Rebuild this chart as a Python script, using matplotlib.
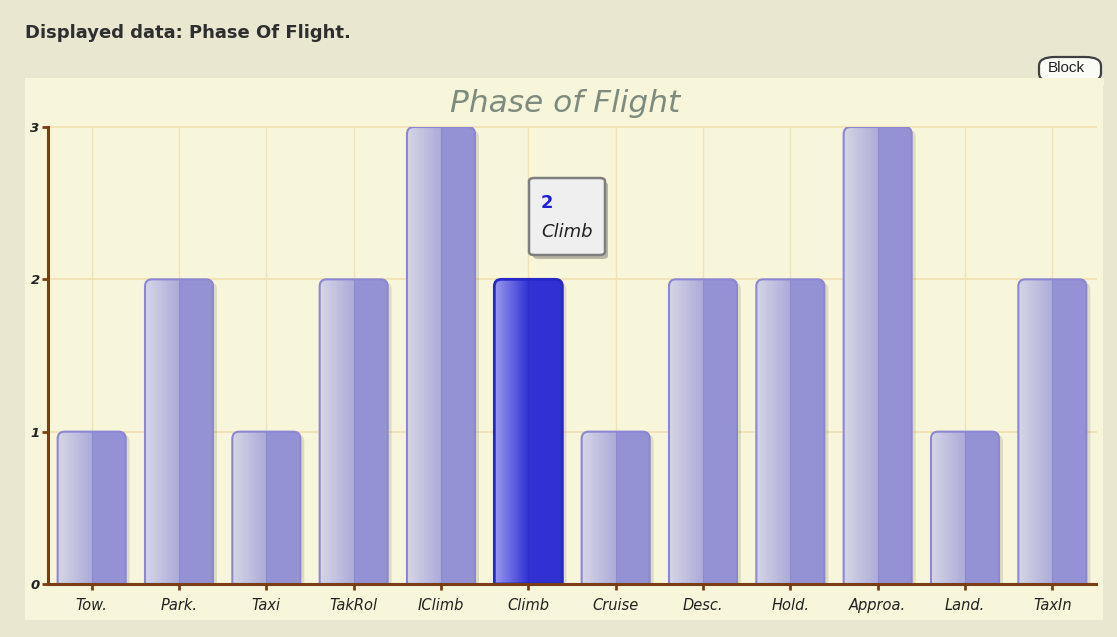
import matplotlib
matplotlib.use("Agg")
import matplotlib.pyplot as plt
import numpy as np
from matplotlib.path import Path
from matplotlib.patches import PathPatch, FancyBboxPatch, Rectangle
from matplotlib.colors import LinearSegmentedColormap

categories = ["Tow.", "Park.", "Taxi", "TakRol", "IClimb", "Climb", "Cruise",
              "Desc.", "Hold.", "Approa.", "Land.", "TaxIn"]
values = [1, 2, 1, 2, 3, 2, 1, 2, 2, 3, 1, 2]
highlight = "Climb"
yticks = [0, 1, 2, 3]

W, H = 1117, 637
fig = plt.figure(figsize=(W / 100, H / 100), dpi=100)
fig.patch.set_facecolor("#EAE7D1")

def fx(px):
    return px / W

def fy(py):
    return 1 - py / H

# inner panel
fig.patches.append(Rectangle((fx(25), fy(620)), fx(1103) - fx(25), fy(78) - fy(620),
                             transform=fig.transFigure, facecolor="#F7F5DA",
                             edgecolor="none", zorder=-5))

fig.text(fx(25), fy(33), "Displayed data: Phase Of Flight.", fontsize=13,
         fontweight="bold", color="#2E2E2E", va="center", ha="left",
         family="DejaVu Sans")

# Block tab
fig.patches.append(FancyBboxPatch((fx(1039), fy(82)), fx(1101) - fx(1039), fy(57) - fy(82),
                                  boxstyle="round,pad=0,rounding_size=0.014",
                                  transform=fig.transFigure, facecolor="#FBFBF6",
                                  edgecolor="#404040", linewidth=1.6, zorder=-4))
fig.patches.append(Rectangle((fx(1036), fy(86)), fx(1104) - fx(1036), fy(78) - fy(86),
                             transform=fig.transFigure, facecolor="#F7F5DA",
                             edgecolor="none", zorder=-3))
fig.text(fx(1048), fy(68), "Block", fontsize=11, color="#222222",
         ha="left", va="center", family="Liberation Sans")

ax_left, ax_right, ax_top, ax_bot = 48, 1096, 127, 584
ax = fig.add_axes([fx(ax_left), fy(ax_bot), fx(ax_right) - fx(ax_left), fy(ax_top) - fy(ax_bot)])
ax.set_zorder(1)
ax.set_facecolor("none")
n = len(categories)
ax.set_xlim(-0.5, n - 0.5)
ax.set_ylim(0, 3)

fig.text(fx(565), fy(104), "Phase of Flight", fontsize=22.5, style="italic",
         color="#7D8C7E", ha="center", va="center", family="DejaVu Sans")

# grid
for i in range(n):
    ax.plot([i, i], [0, 3], color="#F1E2B4", lw=1.0, zorder=1, clip_on=False)
for t in yticks[1:]:
    ax.plot([-0.5, n - 0.5], [t, t], color="#F1E2B4", lw=1.3, zorder=1, clip_on=False)

px_x = (ax_right - ax_left) / n
px_y = (ax_bot - ax_top) / 3.0
rpx = 7
rx, ry = rpx / px_x, rpx / px_y
bw = 68 / px_x

def bar_path(x0, x1, h, dx=0.0, dy=0.0):
    verts = [(x0 + dx, 0 + dy), (x0 + dx, h - ry + dy), (x0 + dx, h + dy), (x0 + rx + dx, h + dy),
             (x1 - rx + dx, h + dy), (x1 + dx, h + dy), (x1 + dx, h - ry + dy),
             (x1 + dx, 0 + dy), (x0 + dx, 0 + dy)]
    codes = [Path.MOVETO, Path.LINETO, Path.CURVE3, Path.CURVE3, Path.LINETO,
             Path.CURVE3, Path.CURVE3, Path.LINETO, Path.CLOSEPOLY]
    return Path(verts, codes)

norm_cmap = LinearSegmentedColormap.from_list("n", ["#D6D6E6", "#ADABD9"])
hl_cmap = LinearSegmentedColormap.from_list("h", ["#9A9AEE", "#3434D6"])
grad = np.linspace(0, 1, 64).reshape(1, -1)

for i, (c, v) in enumerate(zip(categories, values)):
    x0, x1 = i - bw / 2, i + bw / 2
    is_hl = c == highlight
    # shadow
    sh = PathPatch(bar_path(x0, x1, v, dx=4 / px_x, dy=-3 / px_y), facecolor="#000000",
                   alpha=0.10, edgecolor="none", zorder=2)
    ax.add_patch(sh)
    p = bar_path(x0, x1, v)
    base = PathPatch(p, facecolor="#3131D3" if is_hl else "#9491D5", edgecolor="none", zorder=3)
    ax.add_patch(base)
    im = ax.imshow(grad, cmap=hl_cmap if is_hl else norm_cmap, aspect="auto",
                   extent=[x0, i, 0, v], zorder=4, interpolation="bilinear")
    clip = PathPatch(p, facecolor="none", edgecolor="none", transform=ax.transData)
    ax.add_patch(clip)
    im.set_clip_path(clip)
    ax.plot([i, i], [0, v - 0.005], color="#2E2EC8" if is_hl else "#8F8BCF", lw=0.8, zorder=5)
    edge = PathPatch(p, facecolor="none", edgecolor="#2727C9" if is_hl else "#8B87D4",
                     lw=2.0 if is_hl else 1.5, zorder=6)
    ax.add_patch(edge)

ax.set_xlim(-0.5, n - 0.5)
ax.set_ylim(0, 3)

for s in ["top", "right"]:
    ax.spines[s].set_visible(False)
for s in ["left", "bottom"]:
    ax.spines[s].set_color("#7A3E17")
    ax.spines[s].set_linewidth(2.2)
    ax.spines[s].set_zorder(7)

ax.set_xticks(range(n))
ax.set_xticklabels(categories, fontsize=10.5, style="italic", color="#222222")
ax.set_yticks(yticks)
ax.set_yticklabels([str(t) for t in yticks], fontsize=9.5, style="italic",
                   fontweight="bold", color="#333333")
ax.tick_params(axis="both", colors="#7A3E17", length=4, width=2, labelcolor="#222222")
ax.tick_params(axis="x", pad=6)
ax.tick_params(axis="y", pad=2)

# tooltip
fig.patches.append(FancyBboxPatch((fx(533), fy(259)), fx(608) - fx(533), fy(182) - fy(259),
                                  boxstyle="round,pad=0,rounding_size=0.005",
                                  transform=fig.transFigure, facecolor="#000000", alpha=0.25,
                                  edgecolor="none", zorder=8))
fig.patches.append(FancyBboxPatch((fx(529), fy(255)), fx(605) - fx(529), fy(178) - fy(255),
                                  boxstyle="round,pad=0,rounding_size=0.005",
                                  transform=fig.transFigure, facecolor="#EFEFEF",
                                  edgecolor="#7E7E7E", linewidth=1.8, zorder=9))
hv = values[categories.index(highlight)]
fig.text(fx(541), fy(203), str(hv), fontsize=13, fontweight="bold", color="#1E1EE0",
         ha="left", va="center", zorder=10)
fig.text(fx(541), fy(232), highlight, fontsize=13, style="italic", color="#222222",
         ha="left", va="center", zorder=10)

fig.savefig("out.png", dpi=100, facecolor=fig.get_facecolor())
